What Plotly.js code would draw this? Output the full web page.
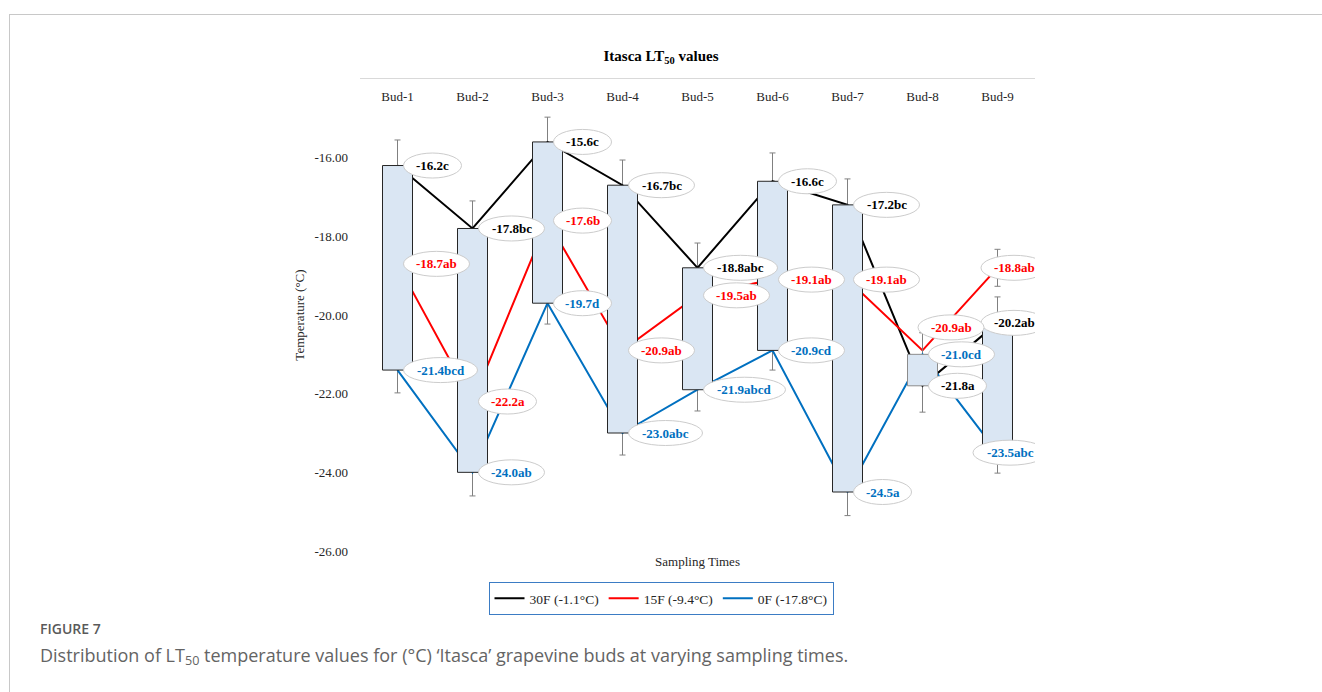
<!DOCTYPE html>
<html>
<head>
<meta charset="utf-8">
<script src="https://cdn.plot.ly/plotly-3.0.1.min.js"></script>
<style>
  html, body { margin: 0; padding: 0; background: #ffffff; }
  #page { position: relative; width: 1322px; height: 692px; overflow: hidden; }
  #frame { position: absolute; left: 9px; top: 14px; right: 0; bottom: 0;
           border-left: 1px solid #c8c8c8; border-top: 1px solid #c8c8c8; }
  #chart { position: absolute; left: 0; top: 0; width: 1322px; height: 692px; }
  .cap { position: absolute; left: 40px; font-family: "Open Sans", sans-serif; color: #646464; white-space: nowrap; }
  .cap sub { font-size: 70%; vertical-align: -0.25em; line-height: 0; }
</style>
</head>
<body>
<div id="page">
  <div id="frame"></div>
  <div id="chart"></div>
  <div class="cap" style="top:619px; font-size:14px; font-weight:600; color:#5a5a5a;">FIGURE 7</div>
  <div class="cap" style="top:643px; font-size:18px;">Distribution of LT<sub>50</sub> temperature values for (°C) ‘Itasca’ grapevine buds at varying sampling times.</div>
</div>
<script>
// Sampling times (categories)
const categories = ['Bud-1', 'Bud-2', 'Bud-3', 'Bud-4', 'Bud-5', 'Bud-6', 'Bud-7', 'Bud-8', 'Bud-9'];

// LT50 (°C) for each freezing treatment
const lt50At30F = [-16.2, -17.8, -15.6, -16.7, -18.8, -16.6, -17.2, -21.8, -20.2];
const lt50At15F = [-18.7, -22.2, -17.6, -20.9, -19.5, -19.1, -19.1, -20.9, -18.8];
const lt50At0F  = [-21.4, -24.0, -19.7, -23.0, -21.9, -20.9, -24.5, -21.0, -23.5];

// Mean-separation letters
const letters30F = ['c', 'bc', 'c', 'bc', 'abc', 'c', 'bc', 'a', 'ab'];
const letters15F = ['ab', 'a', 'b', 'ab', 'ab', 'ab', 'ab', 'ab', 'ab'];
const letters0F  = ['bcd', 'ab', 'd', 'abc', 'abcd', 'cd', 'a', 'cd', 'abc'];

// Standard errors (°C)
const err30F = [0.65, 0.70, 0.63, 0.64, 0.63, 0.72, 0.66, 0.67, 0.66];
const err15F = [0.52, 0.55, 0.50, 0.48, 0.50, 0.45, 0.52, 0.45, 0.47];
const err0F  = [0.58, 0.60, 0.53, 0.56, 0.54, 0.50, 0.60, 0.55, 0.52];

const seriesNames = ['30F (-1.1°C)', '15F (-9.4°C)', '0F (-17.8°C)'];
const yTickValues = [-26, -24, -22, -20, -18, -16, -14];

// ---- styling / geometry ----
const SERIF = 'Liberation Serif, Times New Roman, serif';
const colors = ['#000000', '#ff0000', '#0070c0'];
const labelColors = ['#000000', '#ff0000', '#0070c0'];
const W = 1322, H = 692;
const margin = { l: 360, r: 287, t: 79, b: 141 };
const plotW = W - margin.l - margin.r;
const pxPerCat = plotW / categories.length;
const labelRightLimit = 1047;           // callouts are kept inside the chart area
const idx = categories.map((_, i) => i);

const series = [
  { values: lt50At30F, letters: letters30F, err: err30F },
  { values: lt50At15F, letters: letters15F, err: err15F },
  { values: lt50At0F,  letters: letters0F,  err: err0F }
];

// connecting lines with error bars (drawn beneath the up/down bars)
const traces = series.map((s, k) => ({
  type: 'scatter', mode: 'lines', x: idx, y: s.values, name: seriesNames[k],
  xaxis: 'x', yaxis: 'y',
  line: { color: colors[k], width: 2 },
  error_y: { type: 'data', array: s.err, visible: true, color: '#808080', thickness: 1, width: 3 },
  hoverinfo: 'skip'
}));

// up/down bars spanning the 30F and 0F values, on an overlaid subplot so they sit above the lines
traces.push({
  type: 'bar', x: idx, base: lt50At30F,
  y: lt50At0F.map((v, i) => v - lt50At30F[i]),
  xaxis: 'x2', yaxis: 'y2', width: 0.4, showlegend: false, hoverinfo: 'skip',
  marker: {
    color: '#dae6f3',
    line: { color: lt50At0F.map((v, i) => v > lt50At30F[i] ? '#8c8c8c' : '#262626'), width: 1 }
  }
});

// callout labels: ellipse + bold text to the right of each point
const shapes = [];
const annotations = [];
const nudges = { '1-7': { dx: -4.5, dy: 23 } };   // 15F label at Bud-8 lifted clear of the others
series.forEach((s, k) => {
  s.values.forEach((v, i) => {
    const text = v.toFixed(1) + s.letters[i];
    const w = 8 * text.length + 10;
    const centerPx = margin.l + pxPerCat * (i + 0.5);
    let dx = 6, dy = 0;
    if (centerPx + dx + w > labelRightLimit) dx = labelRightLimit - centerPx - w;
    const n = nudges[k + '-' + i];
    if (n) { dx = n.dx; dy = n.dy; }
    shapes.push({
      type: 'circle', layer: 'above', xref: 'x', yref: 'y',
      xsizemode: 'pixel', ysizemode: 'pixel', xanchor: i, yanchor: v,
      x0: dx, x1: dx + w, y0: dy - 12.5, y1: dy + 12.5,
      fillcolor: '#ffffff', line: { color: '#cccccc', width: 1 }
    });
    annotations.push({
      xref: 'x', yref: 'y', x: i, y: v, text: text, showarrow: false,
      xanchor: 'center', yanchor: 'middle', xshift: dx + w / 2, yshift: dy,
      font: { family: SERIF, size: 13, color: labelColors[k], weight: 'bold' }
    });
  });
});

const axisFont = { family: SERIF, size: 13, color: '#262626' };

const layout = {
  width: W, height: H,
  margin: margin,
  paper_bgcolor: 'rgba(0,0,0,0)', plot_bgcolor: 'rgba(0,0,0,0)',
  showlegend: true,
  title: {
    text: '<b>Itasca LT<sub>50</sub> values</b>',
    font: { family: SERIF, size: 15, color: '#000000' },
    xref: 'container', x: 0.5, xanchor: 'center',
    yref: 'container', y: 1 - 56 / H, yanchor: 'middle'
  },
  xaxis: {
    range: [-0.5, categories.length - 0.5], tickvals: idx, ticktext: categories,
    side: 'top', ticklabelposition: 'inside', ticklabelstandoff: 13,
    showline: true, linecolor: '#d9d9d9', linewidth: 1,
    showgrid: false, zeroline: false, ticks: '', tickfont: axisFont, fixedrange: true
  },
  yaxis: {
    range: [-26, -14], tickvals: yTickValues, ticktext: yTickValues.map(v => v.toFixed(2)),
    showline: false, showgrid: false, zeroline: false, ticks: '', ticklabelstandoff: 11,
    tickfont: axisFont, fixedrange: true,
    title: { text: 'Temperature (°C)', font: axisFont, standoff: 6 }
  },
  xaxis2: {
    overlaying: 'x', anchor: 'y2', side: 'bottom', range: [-0.5, categories.length - 0.5],
    showticklabels: false, showgrid: false, zeroline: false, showline: false, ticks: '',
    fixedrange: true,
    title: { text: 'Sampling Times', font: axisFont, standoff: 5 }
  },
  yaxis2: {
    overlaying: 'y', anchor: 'x2', range: [-26, -14], visible: false, fixedrange: true
  },
  legend: {
    orientation: 'h', xref: 'container', x: 0.5, xanchor: 'center',
    yref: 'container', y: 1 - 582 / H, yanchor: 'top',
    bordercolor: '#3b7cc4', borderwidth: 1, bgcolor: '#ffffff',
    font: { family: SERIF, size: 13.5, color: '#262626' },
    itemclick: false, itemdoubleclick: false
  },
  shapes: shapes,
  annotations: annotations
};

Plotly.newPlot('chart', traces, layout, { displayModeBar: false, staticPlot: true });
</script>
</body>
</html>
